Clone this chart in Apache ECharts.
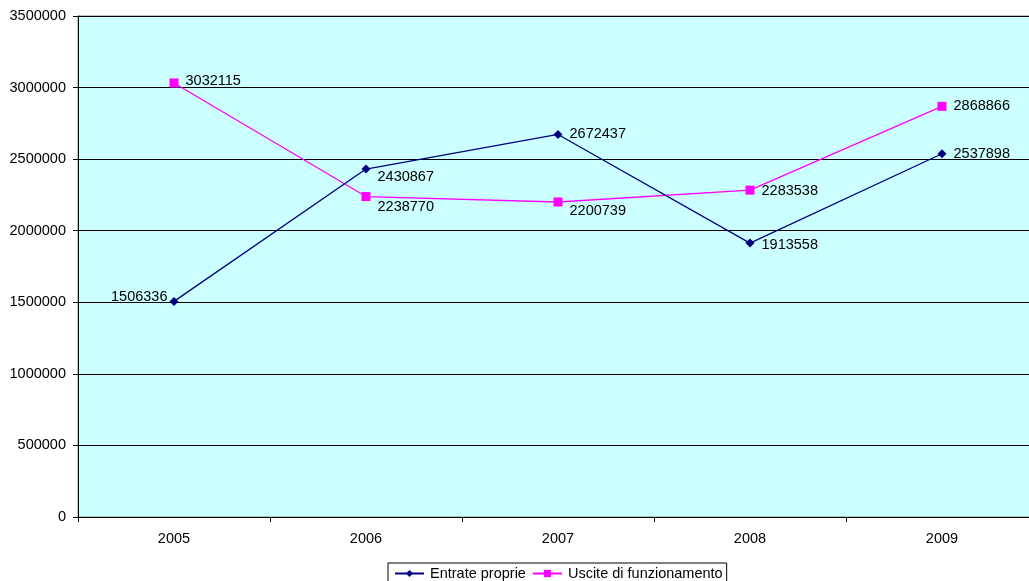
<!DOCTYPE html>
<html>
<head>
<meta charset="utf-8">
<script src="https://cdn.jsdelivr.net/npm/echarts@6/dist/echarts.min.js"></script>
<style>
  html, body { margin: 0; padding: 0; background: #fff; }
  #chart { width: 1029px; height: 581px; }
</style>
</head>
<body>
<div id="chart"></div>
<script>
// Annual figures, 2005–2009
const years = ['2005', '2006', '2007', '2008', '2009'];
const entrateProprie = [1506336, 2430867, 2672437, 1913558, 2537898];
const usciteFunzionamento = [3032115, 2238770, 2200739, 2283538, 2868866];

// Where each value label sits next to its point: [position, dx, dy]
const entrateLabelPlace = [['left', 5, -4], ['right', 0, 8], ['right', 0, 0], ['right', 0, 2], ['right', 0, 0]];
const usciteLabelPlace = [['right', 0, -2], ['right', 0, 10], ['right', 0, 9], ['right', 0, 1], ['right', 0, 0]];

const FONT = 'Liberation Sans';
const FS = 14.5;
const textStyle = { fontFamily: FONT, fontSize: FS, color: '#000' };

function withLabels(values, places) {
  return values.map((v, i) => ({
    value: v,
    label: { position: places[i][0], offset: [places[i][1], places[i][2]] }
  }));
}

const chart = echarts.init(document.getElementById('chart'), null, { renderer: 'canvas' });
chart.setOption({
  animation: false,
  backgroundColor: '#fff',
  textStyle: { fontFamily: FONT },
  grid: {
    left: 78, top: 16, width: 960, height: 501,
    show: true, backgroundColor: '#CCFFFF', borderColor: '#808080', borderWidth: 1,
    containLabel: false, outerBoundsMode: 'none'
  },
  legend: {
    left: 388, top: 563,
    padding: [3, 4, 3, 6],
    borderColor: '#000', borderWidth: 1,
    itemWidth: 29, itemHeight: 9, itemGap: 6,
    textStyle: { fontFamily: FONT, fontSize: FS, color: '#000', padding: [0, 0, 0, 1] },
    data: ['Entrate proprie', 'Uscite di funzionamento']
  },
  xAxis: {
    type: 'category',
    data: years,
    boundaryGap: true,
    axisLine: { lineStyle: { color: '#000', width: 1 } },
    axisTick: { show: true, length: 5, alignWithLabel: false, lineStyle: { color: '#000' } },
    axisLabel: Object.assign({ margin: 14 }, textStyle),
    splitLine: { show: false }
  },
  yAxis: {
    type: 'value',
    min: 0, max: 3500000, interval: 500000,
    axisLine: { show: true, lineStyle: { color: '#000', width: 1 } },
    axisTick: { show: true, length: 5, lineStyle: { color: '#000' } },
    axisLabel: Object.assign({ margin: 12, formatter: v => String(v) }, textStyle),
    splitLine: { show: true, lineStyle: { color: '#000', width: 1 } }
  },
  series: [
    {
      name: 'Entrate proprie',
      type: 'line',
      data: withLabels(entrateProprie, entrateLabelPlace),
      symbol: 'diamond', symbolSize: 9,
      lineStyle: { color: '#000080', width: 1.3 },
      itemStyle: { color: '#000080' },
      label: { show: true, distance: 7, fontFamily: FONT, fontSize: FS, color: '#000' },
      z: 3
    },
    {
      name: 'Uscite di funzionamento',
      type: 'line',
      data: withLabels(usciteFunzionamento, usciteLabelPlace),
      symbol: 'rect', symbolSize: 9,
      lineStyle: { color: '#FF00FF', width: 1.3 },
      itemStyle: { color: '#FF00FF' },
      label: { show: true, distance: 7, fontFamily: FONT, fontSize: FS, color: '#000' },
      z: 2
    }
  ]
});
</script>
</body>
</html>
